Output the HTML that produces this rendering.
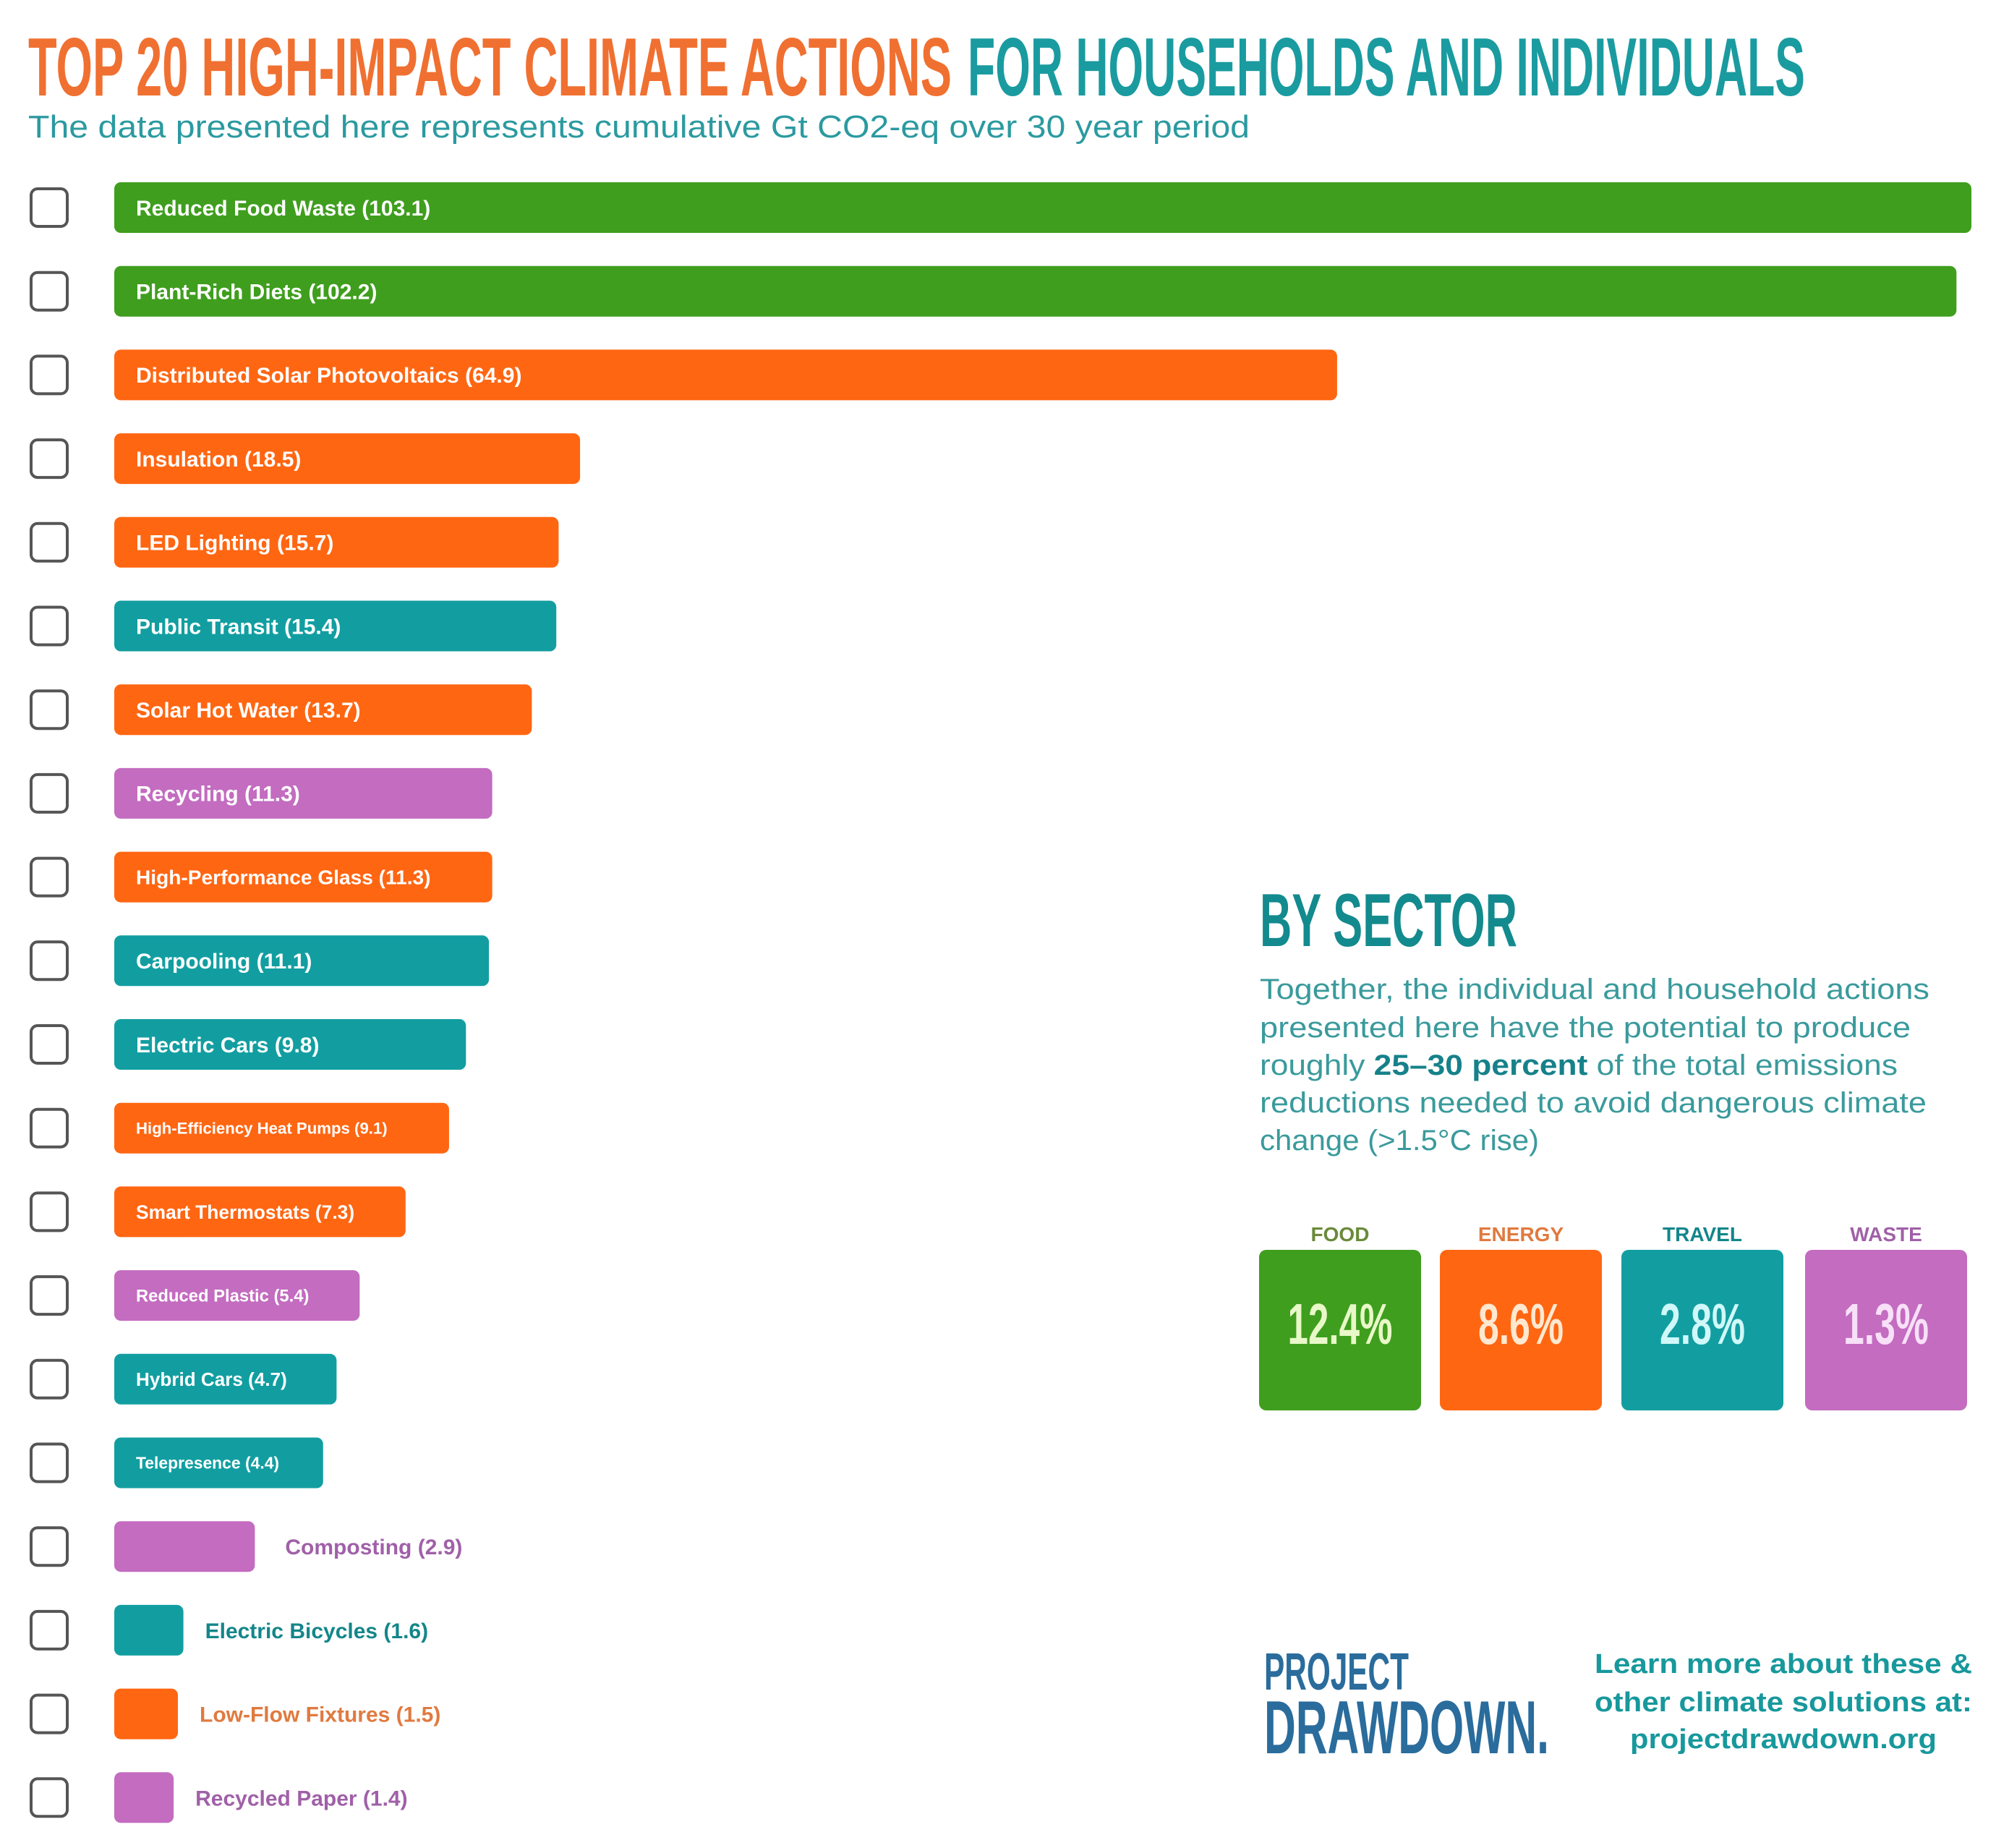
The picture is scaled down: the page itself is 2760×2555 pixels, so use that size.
<!DOCTYPE html>
<html><head><meta charset="utf-8"><style>
html,body{margin:0;padding:0;background:#fff;}
svg{display:block;font-family:"Liberation Sans",sans-serif;}
</style></head><body>
<svg id="chart" width="2760" height="2555" viewBox="0 0 2760 2555" xmlns="http://www.w3.org/2000/svg">
<rect width="2760" height="2555" fill="#fff"/>
<g>
<text x="39" y="132" font-size="114" font-weight="bold" fill="#f07031" textLength="1277" lengthAdjust="spacingAndGlyphs">TOP 20 HIGH-IMPACT CLIMATE ACTIONS</text>
<text x="1338" y="132" font-size="114" font-weight="bold" fill="#1a9ba0" textLength="1158" lengthAdjust="spacingAndGlyphs">FOR HOUSEHOLDS AND INDIVIDUALS</text>
</g>
<text x="39" y="190" font-size="44" fill="#2b9aa0" textLength="1689" lengthAdjust="spacingAndGlyphs">The data presented here represents cumulative Gt CO2-eq over 30 year period</text>
<g id="bars"></g>

<g>
<text x="1742" y="1308" font-size="104" font-weight="bold" fill="#138a8e" textLength="356" lengthAdjust="spacingAndGlyphs">BY SECTOR</text>
<g font-size="40" fill="#3a9a9c">
<text x="1742" y="1381" textLength="926" lengthAdjust="spacingAndGlyphs">Together, the individual and household actions</text>
<text x="1742" y="1434" textLength="900" lengthAdjust="spacingAndGlyphs">presented here have the potential to produce</text>
<text x="1742" y="1486" textLength="882" lengthAdjust="spacingAndGlyphs">roughly <tspan font-weight="bold" fill="#16818a">25–30 percent</tspan> of the total emissions</text>
<text x="1742" y="1538" textLength="922" lengthAdjust="spacingAndGlyphs">reductions needed to avoid dangerous climate</text>
<text x="1742" y="1590" textLength="386" lengthAdjust="spacingAndGlyphs">change (&gt;1.5°C rise)</text>
</g>
<g id="sectors"></g>
</g>

<g>
<text x="1748" y="2336" font-size="72" font-weight="bold" fill="#2a6c9c" textLength="200" lengthAdjust="spacingAndGlyphs">PROJECT</text>
<text x="1748" y="2424" font-size="104" font-weight="bold" fill="#2a6c9c" textLength="394" lengthAdjust="spacingAndGlyphs">DRAWDOWN.</text>
</g>
<g font-size="38" font-weight="bold" fill="#17989c" text-anchor="middle">
<text x="2466" y="2313" textLength="522" lengthAdjust="spacingAndGlyphs">Learn more about these &amp;</text>
<text x="2466" y="2366" textLength="522" lengthAdjust="spacingAndGlyphs">other climate solutions at:</text>
<text x="2466" y="2417" textLength="424" lengthAdjust="spacingAndGlyphs">projectdrawdown.org</text>
</g>
</svg>
<script>
const categories = ["Reduced Food Waste","Plant-Rich Diets","Distributed Solar Photovoltaics","Insulation","LED Lighting","Public Transit","Solar Hot Water","Recycling","High-Performance Glass","Carpooling","Electric Cars","High-Efficiency Heat Pumps","Smart Thermostats","Reduced Plastic","Hybrid Cars","Telepresence","Composting","Electric Bicycles","Low-Flow Fixtures","Recycled Paper"];
const values = [103.1,102.2,64.9,18.5,15.7,15.4,13.7,11.3,11.3,11.1,9.8,9.1,7.3,5.4,4.7,4.4,2.9,1.6,1.5,1.4];
const sectors = ["food","food","energy","energy","energy","travel","energy","waste","energy","travel","travel","energy","energy","waste","travel","travel","waste","travel","energy","waste"];
const sectorNames = ["FOOD","ENERGY","TRAVEL","WASTE"];
const sectorShares = [12.4,8.6,2.8,1.3];
const sectorKeys = ["food","energy","travel","waste"];

const colors = {food:"#3f9e1e",energy:"#ff6612",travel:"#129ea1",waste:"#c36cc0"};
const labelColors = {food:"#6a8a3a",energy:"#e07a40",travel:"#13868a",waste:"#a060a8"};
const tintColors = {food:"#e8f8c8",energy:"#ffe8d0",travel:"#d0f8f8",waste:"#f8e0f8"};
const NS="http://www.w3.org/2000/svg";
const dStops=[0,1.5,3,5,10,15,20,103.1], rStops=[0,88,202,326,493,607,660,2568];
function xScale(v){for(let i=1;i<dStops.length;i++){if(v<=dStops[i]||i===dStops.length-1){const t=(v-dStops[i-1])/(dStops[i]-dStops[i-1]);return rStops[i-1]+t*(rStops[i]-rStops[i-1]);}}return 0;}
const x0=158, y0=287, step=115.7, bh=70;
function yScale(i){return y0+i*step;}
const g=document.getElementById('bars');
function mk(tag,attrs){const e=document.createElementNS(NS,tag);for(const k in attrs)e.setAttribute(k,attrs[k]);return e;}
categories.forEach((c,i)=>{
  const cy=yScale(i), w=xScale(values[i]), col=colors[sectors[i]];
  const cb=mk('rect',{x:43,y:cy-26,width:50,height:52,rx:9,fill:'#fff',stroke:'#555','stroke-width':4});
  
  
  g.appendChild(cb);
  const r=mk('rect',{x:x0,y:cy-bh/2,width:w,height:bh,rx:9,fill:col});
  
  
  g.appendChild(r);
  const label=c+" ("+values[i]+")";
  const est=label.length*17.4;
  let t;
  if(w>240){
    let fs=30; if(est+60>w) fs=Math.max(20,30*(w-50)/est);
    t=mk('text',{x:x0+30,y:cy+fs*0.36,'font-size':fs.toFixed(1),'font-weight':'bold',fill:'#fff'});
  } else {
    t=mk('text',{x:x0+w+(w>150?42:30),y:cy+11,'font-size':30,'font-weight':'bold',fill:labelColors[sectors[i]]});
  }
  t.textContent=label;
  
  
  g.appendChild(t);
});
const sg=document.getElementById('sectors');
const bx=[1741,1991,2242,2496], bw=224, by=1728, bhh=222;
sectorNames.forEach((n,i)=>{
  const k=sectorKeys[i];
  const l=mk('text',{x:bx[i]+bw/2,y:1716,'font-size':28,'font-weight':'bold','text-anchor':'middle',fill:labelColors[k]});
  l.textContent=n;
  
  
  sg.appendChild(l);
  const b=mk('rect',{x:bx[i],y:by,width:bw,height:bhh,rx:10,fill:colors[k]});
  
  
  sg.appendChild(b);
  const p=mk('text',{x:bx[i]+bw/2,y:1858,'font-size':80,'font-weight':'bold','text-anchor':'middle',fill:tintColors[k],textLength:String(sectorShares[i]).length>3?145:118,lengthAdjust:'spacingAndGlyphs'});
  p.textContent=sectorShares[i]+"%";
  
  
  sg.appendChild(p);
});
</script>
</body></html>
